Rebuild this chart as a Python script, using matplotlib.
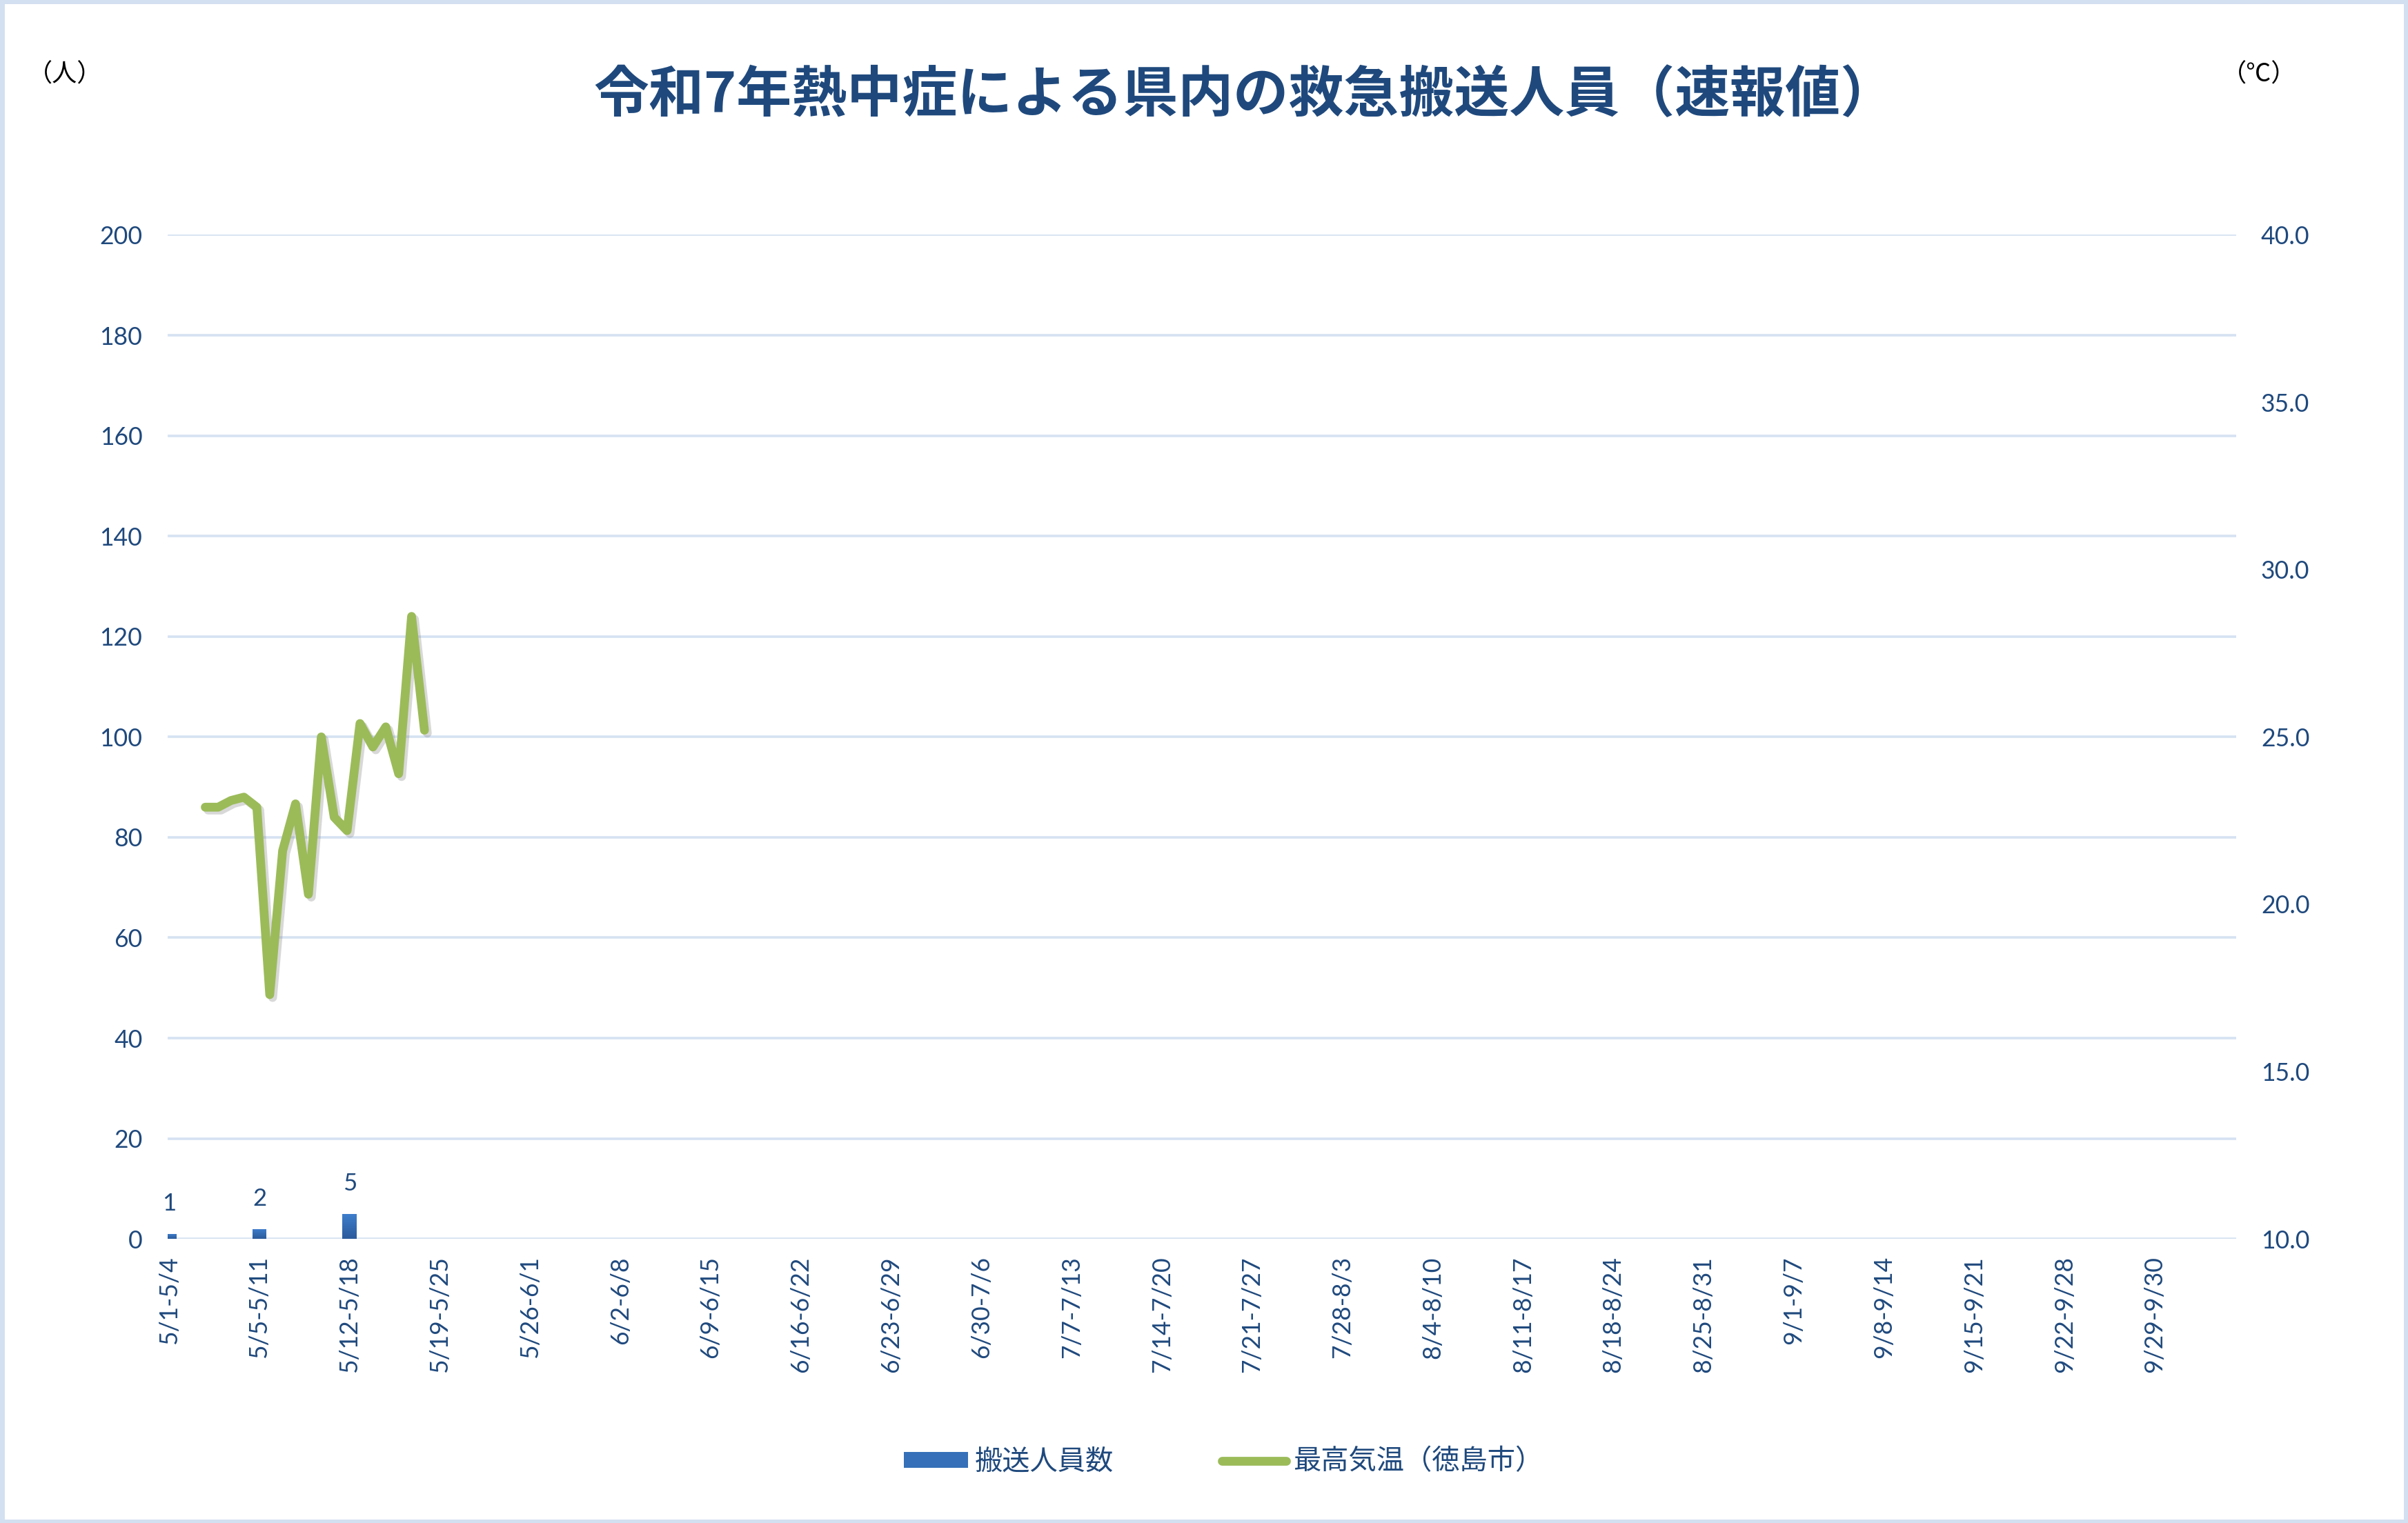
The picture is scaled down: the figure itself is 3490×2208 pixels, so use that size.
""" heatstroke transport chart """

# imports
import numpy as np
import matplotlib
matplotlib.use('Agg')
import matplotlib.pyplot as plt
import matplotlib.patheffects as pe
from matplotlib.colors import LinearSegmentedColormap
from matplotlib.patches import Rectangle

# data
weeks = ['5/1-5/4', '5/5-5/11', '5/12-5/18', '5/19-5/25', '5/26-6/1', '6/2-6/8',
         '6/9-6/15', '6/16-6/22', '6/23-6/29', '6/30-7/6', '7/7-7/13', '7/14-7/20',
         '7/21-7/27', '7/28-8/3', '8/4-8/10', '8/11-8/17', '8/18-8/24', '8/25-8/31',
         '9/1-9/7', '9/8-9/14', '9/15-9/21', '9/22-9/28', '9/29-9/30']
transported = [1, 2, 5]
may_days = list(range(1, 19))
max_temp = [22.9, 22.9, 23.1, 23.2, 22.9, 17.3, 21.6, 23.0, 20.3, 25.0,
            22.6, 22.2, 25.4, 24.7, 25.3, 23.9, 28.6, 25.2]
left_ticks = list(range(0, 201, 20))
right_ticks = [10.0, 15.0, 20.0, 25.0, 30.0, 35.0, 40.0]

# colours
navy = '#1f497d'
grid_col = '#d6e2f2'
green = '#9bbb59'

plt.rcParams['font.family'] = ['Lato', 'Noto Sans CJK JP', 'DejaVu Sans']

fig = plt.figure(figsize=(17.45, 11.04), dpi=200)
ax = fig.add_axes([0.0695, 0.1865, 0.8591, 0.6593])
ax2 = ax.twinx()

# bars (weekly)
bars = ax.bar(range(len(transported)), transported, width=0.16, color='#3570b8', zorder=3)
cmap = LinearSegmentedColormap.from_list('bar', ['#2b5b9b', '#3e7ecd'])
grad = np.linspace(1, 0, 64).reshape(-1, 1)
for b in bars:
	x0, y0, w, h = b.get_x(), b.get_y(), b.get_width(), b.get_height()
	im = ax.imshow(grad, extent=[x0, x0 + w, y0, y0 + h], aspect='auto', cmap=cmap,
	               origin='upper', zorder=3)
	# keep the axes clip box, add the bar outline as clip path
	im.set_clip_path(b.get_path(), b.get_transform())
	b.set_facecolor('none')
ax.bar_label(bars, padding=10, color=navy, fontsize=12.5)

# line (daily, placed on the weekly scale)
x_days = (np.array(may_days) + 1.8) / 7
ax2.plot(x_days, max_temp, color=green, lw=4.6, solid_joinstyle='round',
         solid_capstyle='round', zorder=4,
         path_effects=[pe.SimpleLineShadow(offset=(1.5, -1.5), shadow_color='gray', alpha=0.3),
                       pe.Normal()])

# axes
ax.set_xlim(-0.02, 22.9)
ax.set_ylim(0, 200)
ax2.set_ylim(10, 40)
ax.set_xticks(range(len(weeks)))
ax.set_xticklabels(weeks, rotation=90, color=navy, fontsize=12.8)
ax.set_yticks(left_ticks)
ax.set_yticklabels([str(v) for v in left_ticks], color=navy, fontsize=12.8)
ax2.set_yticks(right_ticks)
ax2.set_yticklabels([f'{v:.1f}' for v in right_ticks], color=navy, fontsize=12.8)
ax.tick_params(axis='x', length=0, pad=9)
ax.tick_params(axis='y', length=0, pad=13)
ax2.tick_params(axis='y', length=0, pad=13)
ax.grid(axis='y', color=grid_col, lw=1.3, zorder=0)
ax.set_axisbelow(True)
for a in (ax, ax2):
	for s in a.spines.values():
		s.set_visible(False)
ax.patch.set_visible(False)

# titles and units
fig.text(0.517, 0.9375, '令和7年熱中症による県内の救急搬送人員（速報値）', ha='center', va='center',
         fontsize=28.8, fontweight='bold', color=navy, family=['Noto Sans CJK JP'])
fig.text(0.027, 0.951, '（人）', ha='center', va='center', fontsize=13, color='black',
         family=['Noto Sans CJK JP'])
fig.text(0.938, 0.951, '（℃）', ha='center', va='center', fontsize=13, color='black',
         family=['Noto Sans CJK JP', 'DejaVu Sans'])

# legend
h_bar = Rectangle((0, 0), 1, 1, facecolor='#3570b8')
h_line = plt.Line2D([], [], color=green, lw=4.6, solid_capstyle='round')
fig.legend([h_bar, h_line], ['搬送人員数', '最高気温（徳島市）'], loc='center',
           bbox_to_anchor=(0.508, 0.0403), ncol=2, frameon=False,
           labelcolor=navy, handlelength=2.3, handleheight=0.5, handletextpad=0.25,
           columnspacing=3.9, prop={'family': ['Noto Sans CJK JP'], 'size': 14.5})

# border
fig.patches.append(Rectangle((0.001, 0.001), 0.998, 0.998, transform=fig.transFigure,
                             fill=False, edgecolor='#d3e0f1', lw=2.5))

fig.savefig('out.png', dpi=200)
